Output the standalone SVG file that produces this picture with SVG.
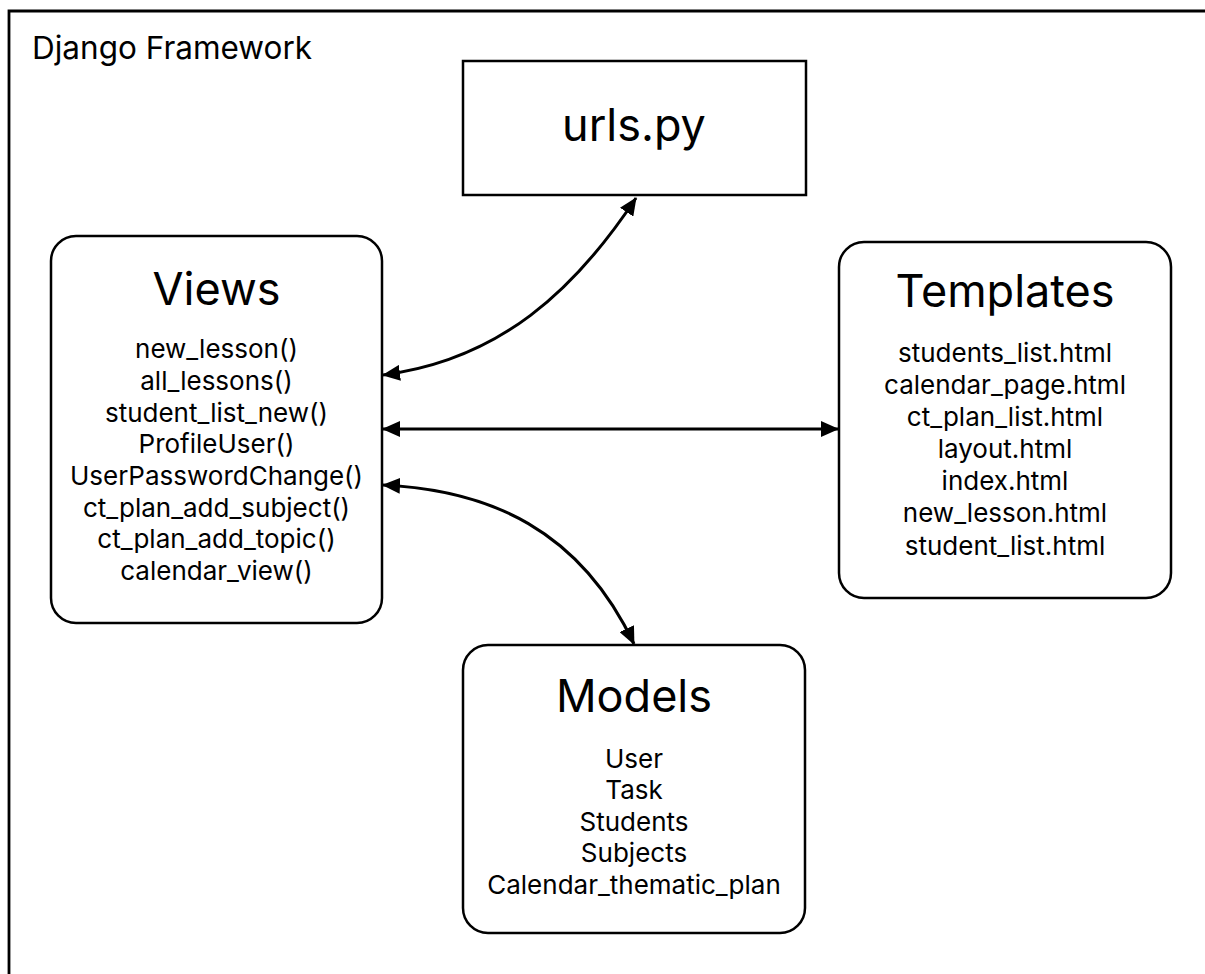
<svg xmlns="http://www.w3.org/2000/svg" width="1205" height="974" viewBox="0 0 1205 974">
<defs>
<style>
.box{fill:#fff;stroke:#000;stroke-width:2.5}
.t{font-family:Inter,"Liberation Sans",sans-serif;fill:#000;text-anchor:middle}
.title{font-size:45px}
.item{font-size:26px}
.edge{fill:none;stroke:#000;stroke-width:3;marker-start:url(#ah);marker-end:url(#ah)}
</style>
<marker id="ah" viewBox="0 0 18 16" refX="17" refY="8" markerWidth="18" markerHeight="16" markerUnits="userSpaceOnUse" orient="auto-start-reverse">
<path d="M0,0 L18,8 L0,16 Z" fill="#000"/>
</marker>
</defs>
<rect width="1205" height="974" fill="#fff"/>
<g id="frame">
<path d="M9,990 V11 H1220" fill="none" stroke="#000" stroke-width="2.8"/>
<text x="32" y="59" font-family="Inter,'Liberation Sans',sans-serif" font-size="31.5">Django Framework</text>
</g>
<g id="urls">
<rect class="box" x="463" y="61" width="343" height="134"/>
<text class="t" x="634" y="141" font-size="45">urls.py</text>
</g>
<g id="views">
<rect class="box" x="51" y="236" width="331" height="387" rx="25"/>
<text class="t title" x="216.5" y="305">Views</text>
<text class="t item" x="216.5" y="358">new_lesson()</text>
<text class="t item" x="216.5" y="390">all_lessons()</text>
<text class="t item" x="216.5" y="422">student_list_new()</text>
<text class="t item" x="216.5" y="453">ProfileUser()</text>
<text class="t item" x="216.5" y="485">UserPasswordChange()</text>
<text class="t item" x="216.5" y="517">ct_plan_add_subject()</text>
<text class="t item" x="216.5" y="548">ct_plan_add_topic()</text>
<text class="t item" x="216.5" y="580">calendar_view()</text>
</g>
<g id="templates">
<rect class="box" x="839" y="242" width="332" height="356" rx="25"/>
<text class="t title" x="1005" y="307">Templates</text>
<text class="t item" x="1005" y="362">students_list.html</text>
<text class="t item" x="1005" y="394">calendar_page.html</text>
<text class="t item" x="1005" y="426">ct_plan_list.html</text>
<text class="t item" x="1005" y="458">layout.html</text>
<text class="t item" x="1005" y="490">index.html</text>
<text class="t item" x="1005" y="522">new_lesson.html</text>
<text class="t item" x="1005" y="555">student_list.html</text>
</g>
<g id="models">
<rect class="box" x="463" y="645" width="342" height="288" rx="25"/>
<text class="t title" x="634" y="712">Models</text>
<text class="t item" x="634" y="768">User</text>
<text class="t item" x="634" y="799">Task</text>
<text class="t item" x="634" y="831">Students</text>
<text class="t item" x="634" y="862">Subjects</text>
<text class="t item" x="634" y="894" font-size="26.3">Calendar_thematic_plan</text>
</g>
<g id="connectors">
<path class="edge" d="M383,375 C500,360 575,290 636,198"/>
<path class="edge" d="M383,429 L838,429"/>
<path class="edge" d="M383,485 C490,490 580,530 634,644"/>
</g>
</svg>
